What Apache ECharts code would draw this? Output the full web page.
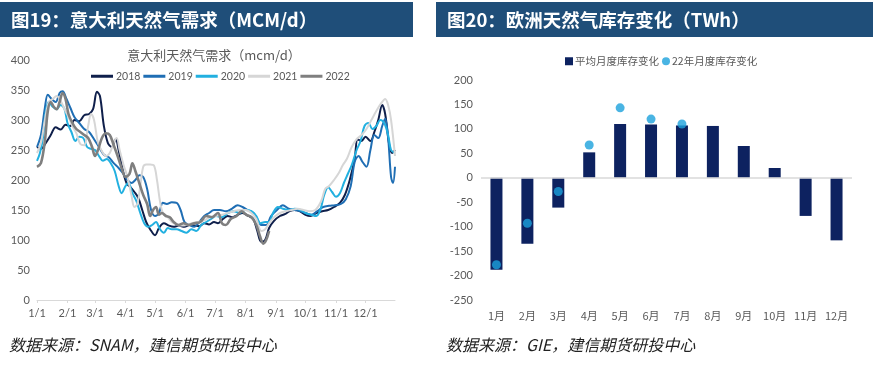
<!DOCTYPE html>
<html><head><meta charset="utf-8">
<script src="https://cdn.jsdelivr.net/npm/echarts@6/dist/echarts.min.js"></script>
<style>html,body{margin:0;padding:0;background:#fff}#c{width:879px;height:365px}</style>
</head><body><div id="c"></div>
<script>
// ---- Left chart: Italy gas demand (mcm/d), [day-of-year, value]
const monthStartDays = [0,31,59,90,120,151,181,212,243,273,304,334];
const monthTickLabels = ['1/1','2/1','3/1','4/1','5/1','6/1','7/1','8/1','9/1','10/1','11/1','12/1'];
const demandYears = ['2018','2019','2020','2021','2022'];
const demand2018 = [[0,255],[4,252],[9,262],[14,275],[19,288],[24,284],[29,292],[34,290],[38,300],[43,298],[48,308],[53,310],[57,318],[61,347],[64,340],[68,290],[72,262],[76,255],[80,268],[83,250],[87,218],[91,195],[95,188],[99,180],[103,170],[107,150],[111,130],[115,118],[120,108],[124,120],[129,128],[134,124],[139,122],[144,124],[150,122],[155,125],[160,124],[165,123],[170,128],[175,126],[180,130],[184,128],[189,135],[194,140],[199,138],[204,142],[209,145],[215,140],[220,135],[224,115],[228,97],[232,100],[236,120],[241,132],[247,140],[252,143],[257,148],[262,150],[267,148],[273,142],[278,140],[284,145],[290,148],[296,150],[302,155],[308,162],[313,175],[318,200],[323,235],[326,268],[330,265],[334,272],[339,265],[343,280],[347,300],[351,325],[354,310],[358,260],[361,245],[364,250]];
const demand2019 = [[0,255],[4,275],[8,320],[11,342],[15,335],[19,330],[23,345],[26,348],[30,335],[34,320],[38,305],[43,295],[48,285],[53,280],[58,268],[63,255],[68,242],[73,238],[78,228],[83,220],[88,210],[92,200],[96,195],[100,200],[104,208],[108,205],[112,185],[116,150],[120,140],[124,145],[128,162],[132,160],[137,163],[142,162],[146,150],[150,130],[155,125],[160,122],[165,130],[170,140],[175,145],[180,150],[186,150],[192,148],[198,152],[204,158],[209,155],[214,150],[220,145],[224,135],[228,125],[233,125],[238,140],[244,150],[250,158],[256,152],[262,150],[268,148],[273,145],[279,142],[285,148],[291,155],[297,157],[303,158],[309,160],[314,168],[319,190],[323,230],[327,240],[331,230],[335,222],[339,250],[343,275],[347,270],[351,290],[354,302],[357,270],[360,205],[362,195],[364,222]];
const demand2020 = [[0,232],[3,245],[6,270],[9,315],[12,330],[16,322],[20,318],[24,325],[28,318],[31,295],[35,280],[39,265],[43,272],[47,270],[51,255],[55,252],[59,250],[63,240],[67,232],[71,235],[75,228],[79,215],[83,190],[86,178],[90,190],[93,195],[97,178],[101,165],[105,145],[109,128],[113,122],[117,125],[121,130],[125,118],[129,112],[133,120],[137,118],[142,118],[147,115],[152,112],[157,118],[162,115],[167,125],[172,130],[177,135],[182,140],[188,138],[194,145],[200,148],[206,145],[212,150],[218,148],[223,140],[227,128],[232,130],[236,130],[240,145],[245,155],[250,152],[256,150],[262,152],[268,150],[273,145],[279,142],[284,140],[288,150],[292,175],[296,188],[300,180],[304,172],[308,178],[312,195],[316,210],[320,225],[325,250],[329,265],[333,290],[337,295],[341,285],[345,290],[349,300],[353,295],[357,275],[360,250],[364,245]];
const demand2021 = [[0,245],[4,262],[8,300],[12,330],[16,335],[20,340],[24,332],[28,318],[32,305],[36,290],[40,278],[44,260],[48,258],[52,290],[55,310],[58,300],[62,262],[66,248],[70,240],[74,245],[78,262],[81,270],[84,250],[88,225],[92,205],[96,175],[99,155],[102,160],[105,190],[108,222],[111,226],[115,226],[119,224],[122,200],[125,165],[128,145],[132,140],[137,130],[142,126],[147,124],[152,125],[158,128],[164,130],[170,133],[176,138],[182,140],[188,142],[194,145],[200,148],[206,150],[212,150],[218,145],[223,135],[228,115],[232,118],[236,128],[241,138],[247,145],[253,148],[259,150],[265,152],[271,150],[277,148],[283,150],[289,165],[293,185],[297,190],[302,200],[307,212],[311,225],[315,235],[320,255],[325,268],[330,275],[335,285],[340,300],[345,315],[350,328],[354,335],[357,325],[360,300],[364,240]];
const demand2022 = [[0,222],[4,228],[8,265],[11,315],[14,330],[17,322],[20,318],[23,330],[26,345],[29,335],[32,310],[36,295],[40,285],[44,280],[48,275],[52,270],[56,255],[59,240],[62,250],[66,270],[70,278],[74,275],[78,258],[82,240],[86,220],[90,205],[94,210],[97,228],[100,215],[104,195],[108,175],[112,160],[115,140],[118,150],[121,155],[124,142],[127,145],[131,140],[135,138],[139,130],[144,125],[149,128],[154,125],[160,128],[166,130],[172,140],[178,138],[184,145],[188,128],[192,125],[197,135],[203,140],[208,148],[213,142],[218,138],[223,125],[227,105],[230,94],[233,100],[236,115]];
const demandColors = ['#0f1f4b','#1f6eb4','#22b0e0','#d6d6d6','#7f7f7f'];

// ---- Right chart: European gas storage change (TWh)
const storageMonths = ['1月','2月','3月','4月','5月','6月','7月','8月','9月','10月','11月','12月'];
const storageAvg = [-188,-135,-61,52,110,109,107,106,65,20,-78,-128];
const storage2022 = [-178,-93,-28,67,143,120,110,null,null,null,null,null];

const chart = echarts.init(document.getElementById('c'), null, {renderer:'canvas'});
const FF = 'Lato, "Noto Sans CJK SC", sans-serif';
const CJK = '"Noto Sans CJK SC", sans-serif';
const labelColor = '#595959';

const demandData = [demand2018, demand2019, demand2020, demand2021, demand2022];
const lineSeries = demandYears.map((y,i)=>({
  name: y, type:'line', xAxisIndex:0, yAxisIndex:0,
  data: demandData[i], showSymbol:false, symbol:'none', smooth:0.35,
  lineStyle:{color:demandColors[i], width: i===4?2.6:2},
  itemStyle:{color:demandColors[i]}
}));

chart.setOption({
  animation:false,
  textStyle:{fontFamily:FF},
  graphic:[
    {type:'rect', shape:{x:0,y:2,width:413,height:35}, style:{fill:'#1f4e79'}},
    {type:'rect', shape:{x:436,y:2,width:437,height:35}, style:{fill:'#1f4e79'}},
    {type:'text', x:11, y:20, style:{text:'图19：意大利天然气需求（MCM/d）', fill:'#fff', fontSize:18.5, fontWeight:'bold', fontFamily:CJK, verticalAlign:'middle'}},
    {type:'text', x:447, y:20, style:{text:'图20：欧洲天然气库存变化（TWh）', fill:'#fff', fontSize:18.5, fontWeight:'bold', fontFamily:CJK, verticalAlign:'middle'}},
    {type:'text', x:214, y:55, style:{text:'意大利天然气需求（mcm/d）', fill:'#595959', fontSize:13, fontFamily:CJK, align:'center', verticalAlign:'middle'}},
    {type:'text', x:9, y:345, style:{text:'数据来源：SNAM，建信期货研投中心', fill:'#222', fontSize:16, fontStyle:'italic', fontFamily:CJK, verticalAlign:'middle'}},
    {type:'text', x:446, y:345, style:{text:'数据来源：GIE，建信期货研投中心', fill:'#222', fontSize:16, fontStyle:'italic', fontFamily:CJK, verticalAlign:'middle'}}
  ],
  legend:[
    {left:86, top:66, icon:'rect', itemWidth:22, itemHeight:3, itemGap:3,
     data: demandYears, textStyle:{color:labelColor, fontSize:10.5, fontFamily:FF, padding:[0,0,0,-2]}},
    {left:560, top:51, itemWidth:8, itemHeight:8, itemGap:3,
     data:[{name:'平均月度库存变化', icon:'rect'},{name:'22年月度库存变化', icon:'circle'}],
     textStyle:{color:labelColor, fontSize:10.5, fontFamily:CJK, padding:[0,0,0,-3]}}
  ],
  grid:[
    {left:37, right:484, top:60, bottom:65},
    {left:481, right:27, top:80, bottom:65}
  ],
  xAxis:[
    {type:'value', gridIndex:0, min:0, max:364,
     axisLine:{show:true, lineStyle:{color:'#d9d9d9'}},
     axisTick:{show:true, customValues:monthStartDays, length:3, lineStyle:{color:'#d9d9d9'}},
     axisLabel:{customValues:monthStartDays, formatter:v=>monthTickLabels[monthStartDays.indexOf(v)], color:labelColor, fontSize:11, margin:8},
     splitLine:{show:false}},
    {type:'category', gridIndex:1, data:storageMonths,
     axisLine:{show:false, onZero:false}, axisTick:{show:false},
     axisLabel:{color:labelColor, fontSize:11, margin:10, fontFamily:CJK}}
  ],
  yAxis:[
    {type:'value', gridIndex:0, min:0, max:400, interval:50,
     axisLine:{show:false}, axisTick:{show:false}, splitLine:{show:false},
     axisLabel:{color:labelColor, fontSize:11, margin:7}},
    {type:'value', gridIndex:1, min:-250, max:200, interval:50,
     axisLine:{show:false}, axisTick:{show:false}, splitLine:{show:false},
     axisLabel:{color:labelColor, fontSize:11, margin:8}}
  ],
  series: lineSeries.concat([
    {name:'平均月度库存变化', type:'bar', xAxisIndex:1, yAxisIndex:1, data:storageAvg, barWidth:12,
     itemStyle:{color:'#0d2260'},
     markLine:{silent:true, symbol:'none', label:{show:false}, lineStyle:{color:'#d9d9d9', type:'solid', width:1.5},
       data:[{yAxis:0}]}},
    {name:'22年月度库存变化', type:'scatter', xAxisIndex:1, yAxisIndex:1, data:storage2022, symbolSize:9,
     itemStyle:{color:'#1ba1dc'}, z:5}
  ])
});
</script></body></html>
